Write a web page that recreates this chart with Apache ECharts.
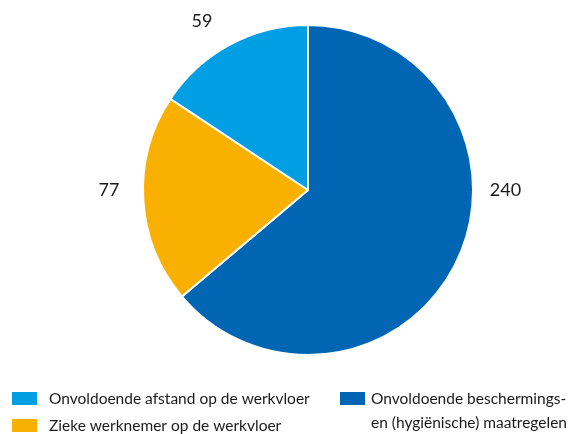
<!DOCTYPE html>
<html><head><meta charset="utf-8">
<script src="https://cdn.jsdelivr.net/npm/echarts@6/dist/echarts.min.js"></script>
<style>html,body{margin:0;padding:0;background:#fff}#c{width:579px;height:434px}</style>
</head><body><div id="c"></div>
<script>
const categories = ["Onvoldoende beschermings-\nen (hygiënische) maatregelen", "Zieke werknemer op de werkvloer", "Onvoldoende afstand op de werkvloer"];
const values = [240, 77, 59];
const colors = ["#0066b3", "#f9b000", "#009fe3"];
const labelOffsets = [[14, -78], [-4, -11], [-8, -6]];

const chart = echarts.init(document.getElementById('c'));
const font = 'Lato';
const legendBase = { orient: 'vertical', padding: 0, itemWidth: 27, itemHeight: 15, icon: 'rect', selectedMode: false,
  textStyle: { fontFamily: font, fontSize: 15.5, color: '#1a1a1a', lineHeight: 15, padding: [0,0,0,6] } };
chart.setOption({
  animation: false,
  legend: [
    Object.assign({}, legendBase, { left: 10, top: 390, data: [categories[2]] }),
    Object.assign({}, legendBase, { left: 10, top: 417, data: [categories[1]] }),
    Object.assign({}, legendBase, { left: 338, top: 386, itemHeight: 48,
      icon: 'path://M0,0L0.01,0L0,0.01Z M0,4L27,4L27,19L0,19Z M0,48L0.01,48L0,47.99Z',
      textStyle: { fontFamily: font, fontSize: 15.5, color: '#1a1a1a', lineHeight: 24, padding: [0,0,0,0] },
      data: [categories[0]] })
  ],
  series: [{
    type: 'pie', center: [308, 190], radius: 165, startAngle: 90, clockwise: true,
    itemStyle: { borderColor: '#fff', borderWidth: 2 },
    label: { show: true, position: 'outside', formatter: '{c}', fontFamily: font, fontSize: 18, color: '#1a1a1a', distanceToLabelLine: 0 },
    labelLine: { show: false, length: 20, length2: 0 },
    labelLayout: p => ({ dx: labelOffsets[p.dataIndex][0], dy: labelOffsets[p.dataIndex][1] }),
    data: values.map((v, i) => ({ name: categories[i], value: v, itemStyle: { color: colors[i] } }))
  }]
});
</script></body></html>
